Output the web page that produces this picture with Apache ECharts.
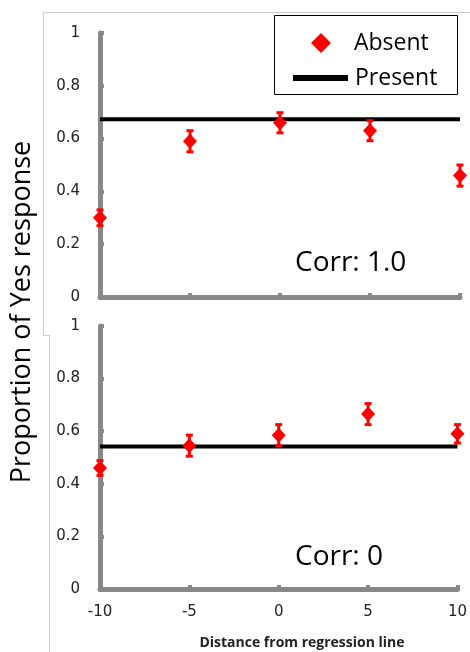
<!DOCTYPE html>
<html>
<head>
<meta charset="utf-8">
<script src="https://cdn.jsdelivr.net/npm/echarts@6/dist/echarts.min.js"></script>
<style>
  html, body { margin: 0; padding: 0; background: #fff; }
  #chart { width: 470px; height: 652px; }
</style>
</head>
<body>
<div id="chart"></div>
<script>
// Data
var distances = [-10, -5, 0, 5, 10];
var xTicks = [-10, 10];

var topAbsent = [0.30, 0.59, 0.66, 0.63, 0.46];
var topErr = [0.03, 0.04, 0.038, 0.038, 0.04];
var topPresent = 0.673;

var bottomAbsent = [0.46, 0.545, 0.585, 0.665, 0.59];
var bottomErr = [0.028, 0.04, 0.04, 0.04, 0.035];
var bottomPresent = 0.542;

var axisGrey = '#888888';
var red = '#ff0000';

function points(vals) {
  return distances.map(function (d, i) { return [d, vals[i]]; });
}
function errRows(vals, errs) {
  return distances.map(function (d, i) { return [d, vals[i] - errs[i], vals[i] + errs[i]]; });
}
function flatLine(v) {
  return xTicks.map(function (d) { return [d, v]; });
}

// Draw error bar with caps
function renderErr(params, api) {
  var top = api.coord([api.value(0), api.value(2)]);
  var bot = api.coord([api.value(0), api.value(1)]);
  var cap = 3.5;
  var st = { stroke: red, lineWidth: 3 };
  return {
    type: 'group',
    children: [
      { type: 'line', shape: { x1: top[0], y1: top[1], x2: bot[0], y2: bot[1] }, style: st },
      { type: 'line', shape: { x1: top[0] - cap, y1: top[1], x2: top[0] + cap, y2: top[1] }, style: st },
      { type: 'line', shape: { x1: bot[0] - cap, y1: bot[1], x2: bot[0] + cap, y2: bot[1] }, style: st }
    ]
  };
}

function xAxisCfg(idx, showLabels) {
  return {
    type: 'value', gridIndex: idx, min: -10, max: 10, interval: 5,
    axisLine: { show: true, onZero: false, lineStyle: { color: axisGrey, width: 5 } },
    axisTick: { show: true, inside: true, length: 4, lineStyle: { color: axisGrey, width: 4 } },
    axisLabel: { show: showLabels, margin: 16, fontSize: 15, color: '#222', fontFamily: 'DejaVu Sans' },
    splitLine: { show: false }
  };
}
function yAxisCfg(idx) {
  return {
    type: 'value', gridIndex: idx, min: 0, max: 1, interval: 0.2,
    axisLine: { show: true, onZero: false, lineStyle: { color: axisGrey, width: 5 } },
    axisTick: { show: true, inside: true, length: 4, lineStyle: { color: axisGrey, width: 4 } },
    axisLabel: { margin: 20, fontSize: 15, color: '#222', fontFamily: 'DejaVu Sans' },
    splitLine: { show: false }
  };
}

var legendText = { fontSize: 23, lineHeight: 28, color: '#000', fontFamily: 'Open Sans' };

var chart = echarts.init(document.getElementById('chart'));
var option = {
  animation: false,
  grid: [
    { left: 100, right: 10, top: 33, height: 264 },
    { left: 100, right: 10, top: 326, height: 263 }
  ],
  xAxis: [xAxisCfg(0, false), xAxisCfg(1, true)],
  yAxis: [yAxisCfg(0), yAxisCfg(1)],
  legend: [
    {
      left: 306, top: 24, itemWidth: 20, itemHeight: 20, itemGap: 0,
      textStyle: Object.assign({ padding: [0, 0, 0, 18] }, legendText),
      data: [{ name: 'Absent', icon: 'diamond', itemStyle: { color: red } }]
    },
    {
      left: 288, top: 59, itemWidth: 55, itemHeight: 6, itemGap: 0,
      textStyle: Object.assign({ padding: [0, 0, 0, 2] }, legendText),
      data: [{ name: 'Present', icon: 'rect', itemStyle: { color: '#000' } }]
    }
  ],
  graphic: [
    { type: 'rect', shape: { x: 274.5, y: 15.5, width: 183, height: 79 }, style: { fill: 'none', stroke: '#000', lineWidth: 1 } },
    { type: 'line', shape: { x1: 43, y1: 12.5, x2: 470, y2: 12.5 }, style: { stroke: '#cccccc', lineWidth: 1 } },
    { type: 'polyline', shape: { points: [[43.5, 12], [43.5, 335.5], [49.5, 335.5], [49.5, 652]] }, style: { fill: 'none', stroke: '#cccccc', lineWidth: 1 } },
    { type: 'text', x: 295, y: 263, style: { text: 'Corr: 1.0', fontSize: 28, fontFamily: 'Open Sans', fill: '#000', textVerticalAlign: 'middle' } },
    { type: 'text', x: 295, y: 557, style: { text: 'Corr: 0', fontSize: 28, fontFamily: 'Open Sans', fill: '#000', textVerticalAlign: 'middle' } },
    { type: 'text', x: 22, y: 312, rotation: Math.PI / 2, style: { text: 'Proportion of Yes response', fontSize: 27, fontFamily: 'Open Sans', fill: '#000', textAlign: 'center', textVerticalAlign: 'middle' } },
    { type: 'text', x: 302, y: 643, style: { text: 'Distance from regression line', fontSize: 14, fontWeight: 'bold', fontFamily: 'Open Sans', fill: '#222', textAlign: 'center', textVerticalAlign: 'middle' } }
  ],
  series: [
    {
      name: 'Present', type: 'line', xAxisIndex: 0, yAxisIndex: 0,
      data: flatLine(topPresent), symbol: 'none',
      lineStyle: { color: '#000', width: 4 }, itemStyle: { color: '#000' }, z: 2
    },
    {
      name: 'Present', type: 'line', xAxisIndex: 1, yAxisIndex: 1,
      data: flatLine(bottomPresent), symbol: 'none',
      lineStyle: { color: '#000', width: 4 }, itemStyle: { color: '#000' }, z: 2
    },
    {
      name: 'Absent', type: 'custom', xAxisIndex: 0, yAxisIndex: 0,
      data: errRows(topAbsent, topErr), renderItem: renderErr, clip: false,
      itemStyle: { color: red }, z: 3
    },
    {
      name: 'Absent', type: 'custom', xAxisIndex: 1, yAxisIndex: 1,
      data: errRows(bottomAbsent, bottomErr), renderItem: renderErr, clip: false,
      itemStyle: { color: red }, z: 3
    },
    {
      name: 'Absent', type: 'scatter', xAxisIndex: 0, yAxisIndex: 0,
      data: points(topAbsent), symbol: 'diamond', symbolSize: [14, 15],
      itemStyle: { color: red, opacity: 1 }, clip: false, z: 4
    },
    {
      name: 'Absent', type: 'scatter', xAxisIndex: 1, yAxisIndex: 1,
      data: points(bottomAbsent), symbol: 'diamond', symbolSize: [14, 15],
      itemStyle: { color: red, opacity: 1 }, clip: false, z: 4
    }
  ]
};
chart.setOption(option);
</script>
</body>
</html>
